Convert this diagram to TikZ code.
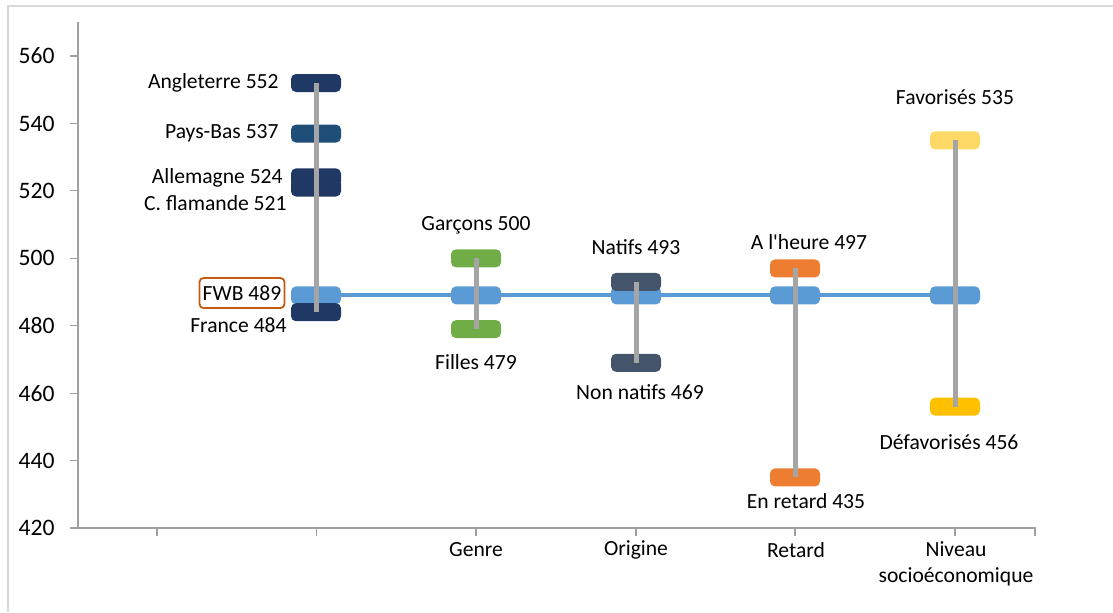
\documentclass[tikz,border=0pt]{standalone}
\usepackage{fontspec}
\setmainfont{Carlito}[Ligatures=TeXOff]
\definecolor{bleu}{HTML}{5B9BD5}
\definecolor{marine}{HTML}{203864}
\definecolor{paysbas}{HTML}{1F4E79}
\definecolor{vert}{HTML}{70AD47}
\definecolor{ardoise}{HTML}{44546A}
\definecolor{orangex}{HTML}{ED7D31}
\definecolor{jaune}{HTML}{FFD966}
\definecolor{ocre}{HTML}{FFC000}
\definecolor{gris}{HTML}{A5A5A5}
\definecolor{axe}{HTML}{A0A0A0}
\definecolor{cadre}{HTML}{D9D9D9}
\definecolor{brique}{HTML}{C55A11}

\begin{document}
\begin{tikzpicture}[x=0.5pt,y=1.6855pt]
\tikzstyle{every node}=[font=\fontsize{10.8pt}{13pt}\selectfont,inner sep=1pt]
\tikzstyle{pill}=[rounded corners=2.5pt,minimum width=25pt,minimum height=9pt,inner sep=0pt]
\tikzstyle{plage}=[line width=2.5pt,gris]
\tikzstyle{axis}=[line width=0.6pt,axe]
\useasboundingbox (0,395.08) rectangle (1113,576.63);
\draw[line width=0.6pt,cadre](8,395.08)--(8,574.85)--(1113,574.85);
\draw[axis](78,420)--(78,570.1);
\foreach \v in {420,440,...,560}{
  \draw[axis](70,\v)--(78,\v);
  \node[anchor=east,font=\fontsize{11.8pt}{14pt}\selectfont](y\v) at (57,\v){\v};
}
\draw[axis](70,420)--(1035,420)--(1035,417.6);
\foreach \x in {157,316.6,476,636,795,955}
  \draw[axis](\x,420)--(\x,417.6);
\node(genre) at (476,413.47){Genre};
\node(origine) at (636,413.47){Origine};
\node(retard) at (796,413.47){Retard};
\node[align=center](niveau) at (956,409.47){Niveau\\socioéconomique};

\foreach \x/\n in {316/1,476/2,636/3,795/4,955/5}
  \node[pill,fill=bleu](fwb\n) at (\x,489){};
\draw[line width=2pt,bleu](fwb1.center)--(fwb5.center);

\node[pill,fill=marine](ang) at (316,552){};
\node[pill,fill=paysbas](pb) at (316,537){};
\node[pill,fill=marine](all) at (316,524){};
\node[pill,fill=marine](fla) at (316,521){};
\node[pill,fill=marine](fra) at (316,484){};
\node[anchor=east](tang) at (281,552){Angleterre 552};
\node[anchor=east](tpb) at (281,537){Pays-Bas 537};
\node[anchor=east](tall) at (285,523.8){Allemagne 524};
\node[anchor=east](tfla) at (289,516.4){C. flamande 521};
\node[draw=brique,line width=0.9pt,rounded corners=2pt,minimum width=42.5pt,minimum height=15pt](tfwb) at (242,489.7){FWB 489};
\node[anchor=east](tfra) at (289,480.2){France 484};

\node[pill,fill=vert](gar) at (476,500){};
\node[pill,fill=vert](fil) at (476,479){};
\node(tgar) at (476,509.9){Garçons 500};
\node(tfil) at (476,469.2){Filles 479};

\node[pill,fill=ardoise](nat) at (636,493){};
\node[pill,fill=ardoise](nnat) at (636,469){};
\node(tnat) at (636,503.3){Natifs 493};
\node(tnnat) at (640,460.3){Non natifs 469};

\node[pill,fill=orangex](heure) at (795,497){};
\node[pill,fill=orangex](ret) at (795,435){};
\node(theure) at (809,504.8){A l'heure 497};
\node(tret) at (806,428){En retard 435};

\node[pill,fill=jaune](fav) at (955,535){};
\node[pill,fill=ocre](defav) at (955,456){};
\node(tfav) at (955,547.8){Favorisés 535};
\node(tdefav) at (949,445.5){Défavorisés 456};

\draw[plage](ang.center)--(fra.center);
\draw[plage](gar.center)--(fil.center);
\draw[plage](nat.center)--(nnat.center);
\draw[plage](heure.center)--(ret.center);
\draw[plage](fav.center)--(defav.center);
\end{tikzpicture}
\end{document}
